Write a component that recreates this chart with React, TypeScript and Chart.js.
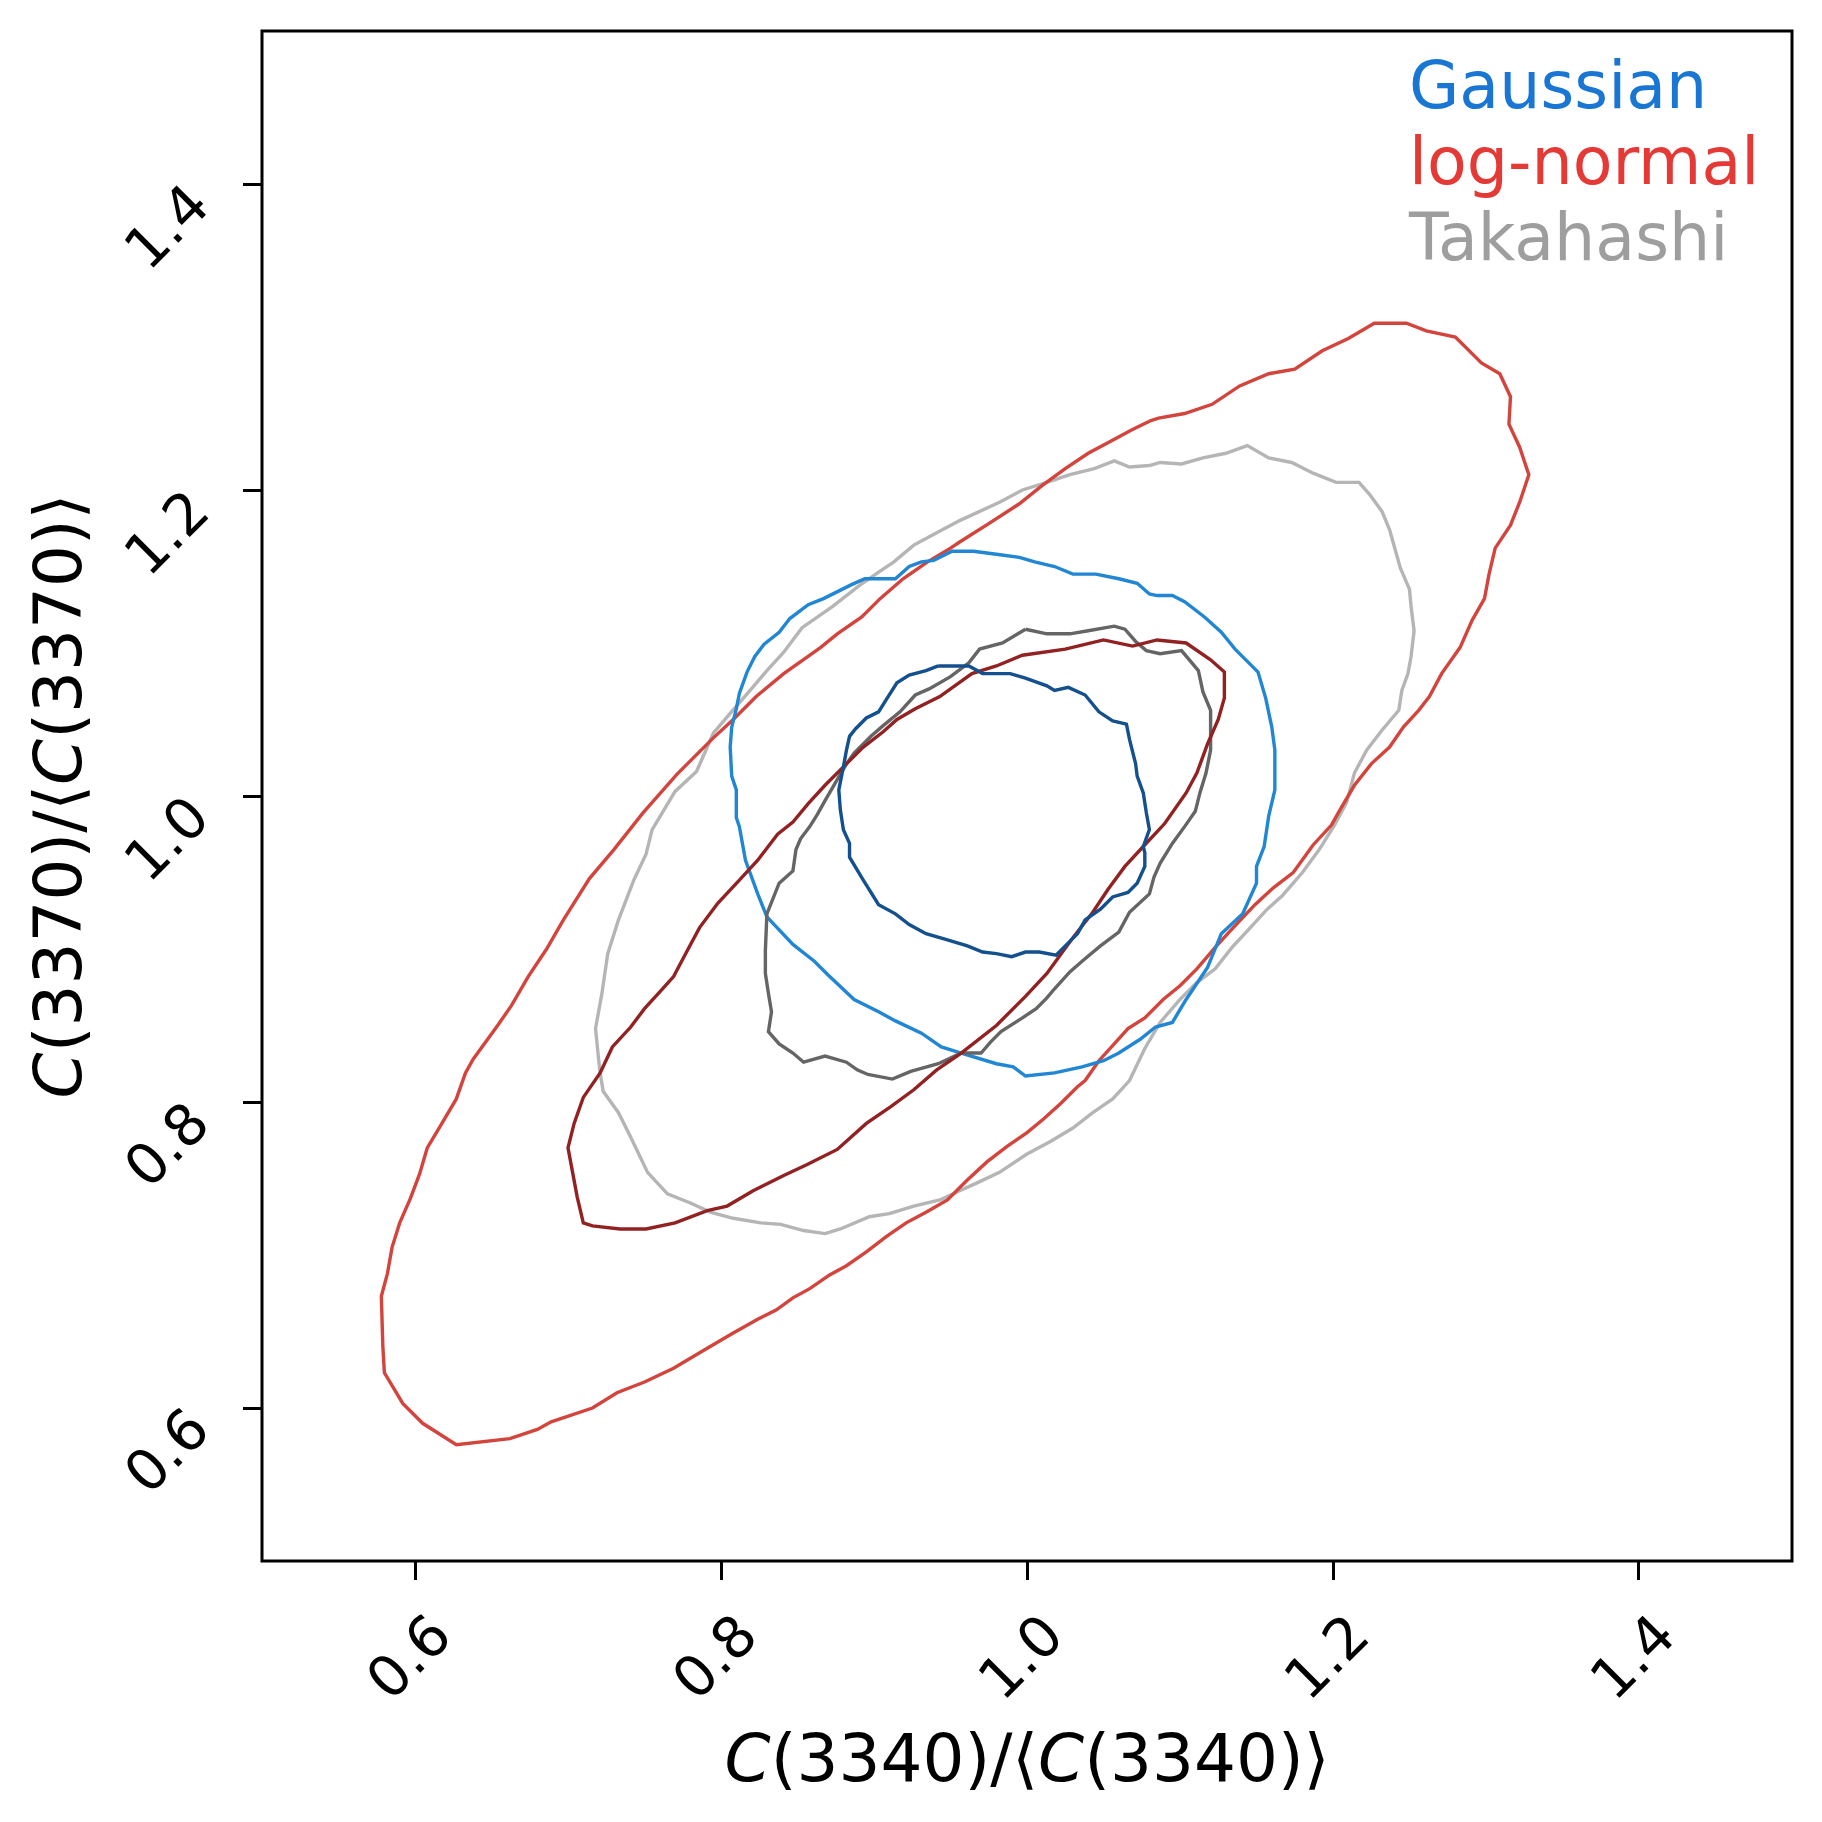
import React, { useEffect, useRef } from "react";
import { Chart, registerables } from "chart.js";

Chart.register(...registerables);

// ---------- data ----------
const axisMin = 0.5;
const axisMax = 1.5;
const xTickValues = [0.6, 0.8, 1.0, 1.2, 1.4];
const yTickValues = [0.6, 0.8, 1.0, 1.2, 1.4];

const legendLabels = ["Gaussian", "log-normal", "Takahashi"];
const legendColors = ["#1976d2", "#e53935", "#9e9e9e"];

const xTitleParts: [string, boolean][] = [["C", true], ["(3340)/⟨", false], ["C", true], ["(3340)⟩", false]];
const yTitleParts: [string, boolean][] = [["C", true], ["(3370)/⟨", false], ["C", true], ["(3370)⟩", false]];

const gaussianOuter: [number, number][] = [
  [0.956, 1.160], [0.965, 1.160], [0.980, 1.158], [0.995, 1.156], [1.005, 1.153], [1.018, 1.150],
  [1.030, 1.145], [1.045, 1.145], [1.060, 1.142], [1.072, 1.139], [1.080, 1.132], [1.085, 1.131],
  [1.095, 1.131], [1.103, 1.127], [1.116, 1.117], [1.127, 1.107], [1.136, 1.096], [1.144, 1.088],
  [1.151, 1.081], [1.156, 1.064], [1.160, 1.045], [1.162, 1.030], [1.162, 1.004], [1.158, 0.987],
  [1.155, 0.967], [1.150, 0.954], [1.150, 0.943], [1.141, 0.923], [1.127, 0.910], [1.118, 0.888],
  [1.104, 0.867], [1.095, 0.852], [1.084, 0.849], [1.074, 0.841], [1.060, 0.832], [1.050, 0.827],
  [1.036, 0.823], [1.018, 0.819], [0.999, 0.817], [0.991, 0.823], [0.980, 0.825], [0.957, 0.832],
  [0.944, 0.836], [0.931, 0.845], [0.914, 0.853], [0.903, 0.859], [0.887, 0.867], [0.870, 0.883],
  [0.861, 0.892], [0.847, 0.903], [0.830, 0.921], [0.824, 0.936], [0.816, 0.958], [0.812, 0.980],
  [0.810, 0.986], [0.810, 1.004], [0.807, 1.013], [0.806, 1.032], [0.807, 1.045], [0.810, 1.057],
  [0.812, 1.067], [0.817, 1.081], [0.822, 1.091], [0.828, 1.099], [0.838, 1.107], [0.845, 1.116],
  [0.857, 1.125], [0.867, 1.129], [0.885, 1.138], [0.894, 1.142], [0.914, 1.142], [0.923, 1.150],
  [0.931, 1.153], [0.939, 1.154], [0.951, 1.160],
];

const gaussianInner: [number, number][] = [
  [0.942, 1.085], [0.955, 1.085], [0.962, 1.085], [0.971, 1.080], [0.989, 1.080], [0.999, 1.077],
  [1.013, 1.072], [1.018, 1.069], [1.027, 1.071], [1.038, 1.066], [1.047, 1.055], [1.056, 1.049],
  [1.065, 1.047], [1.067, 1.037], [1.071, 1.021], [1.072, 1.013], [1.076, 1.002], [1.078, 0.989],
  [1.080, 0.978], [1.076, 0.967], [1.077, 0.963], [1.077, 0.954], [1.072, 0.943], [1.066, 0.937],
  [1.056, 0.934], [1.048, 0.926], [1.038, 0.919], [1.033, 0.910], [1.027, 0.904], [1.019, 0.896],
  [1.008, 0.898], [0.999, 0.898], [0.990, 0.895], [0.980, 0.897], [0.971, 0.898], [0.961, 0.902],
  [0.948, 0.906], [0.934, 0.910], [0.923, 0.916], [0.914, 0.923], [0.903, 0.929], [0.893, 0.945],
  [0.884, 0.960], [0.884, 0.969], [0.880, 0.978], [0.878, 0.991], [0.877, 1.004], [0.880, 1.019],
  [0.882, 1.030], [0.884, 1.039], [0.888, 1.044], [0.895, 1.051], [0.903, 1.055], [0.908, 1.063],
  [0.915, 1.074], [0.923, 1.079], [0.934, 1.082],
];

const logNormalOuter: [number, number][] = [
  [1.080, 1.245], [1.086, 1.247], [1.103, 1.250], [1.121, 1.256], [1.139, 1.268], [1.158, 1.276],
  [1.175, 1.279], [1.193, 1.291], [1.210, 1.299], [1.227, 1.309], [1.248, 1.309], [1.261, 1.304],
  [1.280, 1.300], [1.297, 1.283], [1.309, 1.276], [1.316, 1.261], [1.315, 1.243], [1.322, 1.228],
  [1.328, 1.210], [1.322, 1.192], [1.316, 1.177], [1.306, 1.162], [1.302, 1.145], [1.299, 1.129],
  [1.291, 1.115], [1.283, 1.097], [1.271, 1.080], [1.263, 1.065], [1.256, 1.056], [1.246, 1.045],
  [1.237, 1.032], [1.225, 1.021], [1.214, 1.007], [1.204, 0.990], [1.199, 0.981], [1.187, 0.968],
  [1.174, 0.950], [1.161, 0.940], [1.149, 0.929], [1.133, 0.912], [1.123, 0.901], [1.111, 0.887],
  [1.100, 0.876], [1.089, 0.867], [1.077, 0.855], [1.066, 0.848], [1.057, 0.838], [1.047, 0.827],
  [1.038, 0.814], [1.033, 0.810], [1.022, 0.799], [1.011, 0.789], [1.000, 0.780], [0.987, 0.771],
  [0.974, 0.761], [0.961, 0.749], [0.948, 0.736], [0.934, 0.728], [0.921, 0.721], [0.908, 0.712],
  [0.895, 0.702], [0.882, 0.693], [0.871, 0.687], [0.858, 0.678], [0.847, 0.672], [0.836, 0.664],
  [0.824, 0.658], [0.808, 0.649], [0.791, 0.639], [0.769, 0.626], [0.750, 0.617], [0.732, 0.610],
  [0.716, 0.600], [0.689, 0.591], [0.680, 0.586], [0.662, 0.580], [0.627, 0.576], [0.605, 0.590],
  [0.592, 0.603], [0.580, 0.623], [0.579, 0.640], [0.578, 0.673], [0.582, 0.688], [0.585, 0.705],
  [0.590, 0.721], [0.597, 0.737], [0.603, 0.753], [0.608, 0.770], [0.617, 0.785], [0.627, 0.802],
  [0.633, 0.819], [0.638, 0.828], [0.654, 0.850], [0.663, 0.863], [0.674, 0.882], [0.686, 0.900],
  [0.697, 0.919], [0.714, 0.946], [0.730, 0.965], [0.749, 0.989], [0.771, 1.014], [0.795, 1.038],
  [0.808, 1.050], [0.823, 1.065], [0.841, 1.080], [0.865, 1.097], [0.876, 1.106], [0.892, 1.117],
  [0.904, 1.129], [0.919, 1.142], [0.935, 1.153], [0.950, 1.162], [0.956, 1.166], [0.975, 1.178],
  [0.995, 1.191], [1.010, 1.203], [1.025, 1.214], [1.040, 1.224], [1.055, 1.232], [1.068, 1.239],
];

const logNormalInner: [number, number][] = [
  [0.812, 0.945], [0.824, 0.958], [0.837, 0.975], [0.847, 0.983], [0.857, 0.995], [0.868, 1.007],
  [0.882, 1.021], [0.893, 1.032], [0.906, 1.042], [0.915, 1.050], [0.927, 1.057], [0.943, 1.065],
  [0.964, 1.080], [0.980, 1.085], [0.997, 1.092], [1.025, 1.096], [1.050, 1.102], [1.069, 1.098],
  [1.085, 1.102], [1.104, 1.100], [1.120, 1.089], [1.129, 1.081], [1.129, 1.064], [1.125, 1.050],
  [1.118, 1.034], [1.111, 1.015], [1.104, 1.002], [1.090, 0.982], [1.076, 0.967], [1.064, 0.954],
  [1.053, 0.939], [1.043, 0.924], [1.029, 0.906], [1.013, 0.884], [0.999, 0.869], [0.980, 0.850],
  [0.957, 0.832], [0.941, 0.821], [0.926, 0.808], [0.911, 0.797], [0.895, 0.786], [0.876, 0.769],
  [0.856, 0.759], [0.841, 0.752], [0.821, 0.742], [0.804, 0.732], [0.791, 0.729], [0.770, 0.721],
  [0.751, 0.717], [0.734, 0.717], [0.716, 0.719], [0.710, 0.721], [0.706, 0.738], [0.700, 0.770],
  [0.704, 0.786], [0.710, 0.803], [0.721, 0.819], [0.729, 0.836], [0.741, 0.849], [0.750, 0.861],
  [0.760, 0.872], [0.769, 0.882], [0.778, 0.899], [0.786, 0.914], [0.798, 0.930],
];

const takahashiOuter: [number, number][] = [
  [1.080, 1.216], [1.087, 1.218], [1.101, 1.217], [1.115, 1.221], [1.130, 1.224], [1.144, 1.229],
  [1.158, 1.221], [1.173, 1.218], [1.187, 1.211], [1.202, 1.205], [1.217, 1.205], [1.224, 1.197],
  [1.232, 1.186], [1.237, 1.174], [1.244, 1.149], [1.250, 1.135], [1.251, 1.124], [1.253, 1.108],
  [1.251, 1.091], [1.249, 1.080], [1.245, 1.069], [1.243, 1.056], [1.232, 1.043], [1.222, 1.030],
  [1.214, 1.015], [1.209, 0.996], [1.201, 0.981], [1.191, 0.965], [1.180, 0.950], [1.167, 0.935],
  [1.157, 0.926], [1.146, 0.914], [1.134, 0.901], [1.123, 0.887], [1.111, 0.878], [1.100, 0.867],
  [1.087, 0.852], [1.077, 0.835], [1.067, 0.814], [1.056, 0.802], [1.043, 0.793], [1.030, 0.783],
  [1.015, 0.774], [1.000, 0.766], [0.982, 0.754], [0.967, 0.747], [0.956, 0.742], [0.943, 0.736],
  [0.926, 0.732], [0.910, 0.727], [0.897, 0.725], [0.878, 0.717], [0.868, 0.714], [0.854, 0.716],
  [0.839, 0.720], [0.826, 0.721], [0.808, 0.724], [0.793, 0.728], [0.780, 0.734], [0.765, 0.740],
  [0.752, 0.754], [0.741, 0.777], [0.733, 0.793], [0.723, 0.807], [0.721, 0.819], [0.720, 0.828],
  [0.718, 0.848], [0.722, 0.870], [0.726, 0.897], [0.733, 0.919], [0.743, 0.945], [0.751, 0.962],
  [0.755, 0.978], [0.770, 1.003], [0.784, 1.016], [0.795, 1.041], [0.806, 1.054], [0.819, 1.069],
  [0.830, 1.082], [0.841, 1.094], [0.853, 1.110], [0.873, 1.124], [0.891, 1.138], [0.904, 1.147],
  [0.913, 1.153], [0.926, 1.164], [0.941, 1.172], [0.956, 1.180], [0.982, 1.192], [0.997, 1.200],
  [1.013, 1.205], [1.028, 1.210], [1.044, 1.214], [1.057, 1.219], [1.067, 1.215],
];

const takahashiInner: [number, number][] = [
  [0.999, 1.109], [1.013, 1.106], [1.028, 1.106], [1.040, 1.108], [1.057, 1.111], [1.064, 1.109],
  [1.071, 1.101], [1.078, 1.095], [1.087, 1.093], [1.101, 1.095], [1.112, 1.082], [1.115, 1.068],
  [1.120, 1.056], [1.120, 1.030], [1.117, 1.015], [1.113, 1.002], [1.110, 0.990], [1.103, 0.980],
  [1.095, 0.969], [1.087, 0.956], [1.083, 0.947], [1.080, 0.936], [1.067, 0.924], [1.060, 0.911],
  [1.048, 0.902], [1.036, 0.892], [1.028, 0.885], [1.018, 0.874], [1.013, 0.868], [1.006, 0.861],
  [0.997, 0.855], [0.983, 0.846], [0.976, 0.839], [0.970, 0.832], [0.957, 0.832], [0.942, 0.825],
  [0.924, 0.820], [0.912, 0.815], [0.896, 0.818], [0.889, 0.821], [0.882, 0.826], [0.868, 0.830],
  [0.854, 0.826], [0.847, 0.832], [0.838, 0.838], [0.831, 0.846], [0.833, 0.859], [0.831, 0.871],
  [0.829, 0.884], [0.829, 0.899], [0.830, 0.923], [0.838, 0.943], [0.847, 0.951], [0.849, 0.965],
  [0.852, 0.972], [0.858, 0.980], [0.863, 0.988], [0.868, 0.997], [0.875, 1.009], [0.882, 1.021],
  [0.887, 1.028], [0.898, 1.039], [0.906, 1.046], [0.917, 1.055], [0.927, 1.066], [0.936, 1.070],
  [0.950, 1.078], [0.962, 1.087], [0.969, 1.096], [0.984, 1.100],
];

// ---------- styling ----------
const FONT = '"DejaVu Sans", "Liberation Sans", sans-serif';
const W = 1822;
const H = 1822;

function closed(points: [number, number][]) {
  const pts = points.map(([x, y]) => ({ x, y }));
  pts.push({ ...pts[0] });
  return pts;
}

function contour(label: string, points: [number, number][], color: string) {
  return {
    label,
    data: closed(points),
    showLine: true,
    borderColor: color,
    backgroundColor: color,
    borderWidth: 3.4,
    pointRadius: 0,
    pointHoverRadius: 0,
    tension: 0,
    fill: false,
  };
}

function drawRich(ctx: CanvasRenderingContext2D, parts: [string, boolean][], cx: number, baseline: number, size: number) {
  let total = 0;
  const widths: number[] = [];
  for (const [t, it] of parts) {
    ctx.font = `${it ? "italic " : ""}${size}px ${FONT}`;
    const w = ctx.measureText(t).width;
    widths.push(w);
    total += w;
  }
  let x = cx - total / 2;
  parts.forEach(([t, it], i) => {
    ctx.font = `${it ? "italic " : ""}${size}px ${FONT}`;
    ctx.fillText(t, x, baseline);
    x += widths[i];
  });
}

const decorPlugin = {
  id: "decor",
  afterDatasetsDraw(chart: any) {
    const { ctx, chartArea } = chart;
    const { left, top, right, bottom } = chartArea;
    ctx.save();
    // frame
    ctx.strokeStyle = "#000";
    ctx.lineWidth = 3;
    ctx.strokeRect(left, top, right - left, bottom - top);
    // legend texts
    ctx.textAlign = "left";
    ctx.textBaseline = "alphabetic";
    ctx.font = `65px ${FONT}`;
    legendLabels.forEach((lab, i) => {
      ctx.fillStyle = legendColors[i];
      ctx.fillText(lab, 1409, 108 + i * 76);
    });
    // axis titles
    ctx.fillStyle = "#000";
    drawRich(ctx, xTitleParts, (left + right) / 2, 1781, 66);
    ctx.translate(81, (top + bottom) / 2);
    ctx.rotate(-Math.PI / 2);
    drawRich(ctx, yTitleParts, 0, 0, 66);
    ctx.restore();
  },
};

export default function App() {
  const ref = useRef<HTMLCanvasElement | null>(null);

  useEffect(() => {
    document.body.style.margin = "0";
    const canvas = ref.current;
    if (!canvas) return;

    const tickFont = { family: FONT, size: 57 };
    const chart = new Chart(canvas, {
      type: "scatter",
      data: {
        datasets: [
          contour("Gaussian inner", gaussianInner, "#14508e"),
          contour("log-normal inner", logNormalInner, "#922222"),
          contour("Takahashi inner", takahashiInner, "#656565"),
          contour("Gaussian outer", gaussianOuter, "#2186d3"),
          contour("log-normal outer", logNormalOuter, "#d3443d"),
          contour("Takahashi outer", takahashiOuter, "#b5b5b5"),
        ],
      },
      options: {
        responsive: false,
        animation: false,
        devicePixelRatio: 1,
        layout: { padding: { top: 31, right: 30, left: 0, bottom: 0 } },
        plugins: {
          legend: { display: false },
          tooltip: { enabled: false },
          title: { display: false },
        },
        events: [],
        scales: {
          x: {
            type: "linear",
            min: axisMin,
            max: axisMax,
            afterBuildTicks: (scale: any) => {
              scale.ticks = xTickValues.map((v) => ({ value: v }));
            },
            afterFit: (scale: any) => {
              scale.height = 261;
              scale.paddingLeft = 0;
              scale.paddingRight = 0;
              scale.paddingTop = 0;
              scale.paddingBottom = 0;
            },
            ticks: {
              autoSkip: false,
              minRotation: 45,
              maxRotation: 45,
              padding: 24,
              labelOffset: 29,
              color: "#000",
              font: tickFont,
              callback: (v: any) => Number(v).toFixed(1),
            },
            grid: {
              display: true,
              drawOnChartArea: false,
              drawTicks: true,
              tickLength: 19,
              tickWidth: 3,
              tickColor: "#000",
            },
            border: { display: false },
          },
          y: {
            type: "linear",
            min: axisMin,
            max: axisMax,
            afterBuildTicks: (scale: any) => {
              scale.ticks = yTickValues.map((v) => ({ value: v }));
            },
            afterFit: (scale: any) => {
              scale.width = 262;
              scale.paddingLeft = 0;
              scale.paddingRight = 0;
              scale.paddingTop = 0;
              scale.paddingBottom = 0;
            },
            ticks: {
              autoSkip: false,
              minRotation: 45,
              maxRotation: 45,
              padding: 41,
              labelOffset: 14,
              color: "#000",
              font: tickFont,
              callback: (v: any) => Number(v).toFixed(1),
            },
            grid: {
              display: true,
              drawOnChartArea: false,
              drawTicks: true,
              tickLength: 19,
              tickWidth: 3,
              tickColor: "#000",
            },
            border: { display: false },
          },
        },
      } as any,
      plugins: [decorPlugin],
    });

    return () => chart.destroy();
  }, []);

  return (
    <div style={{ width: W, height: H, background: "#fff" }}>
      <canvas ref={ref} width={W} height={H} style={{ display: "block", width: W, height: H }} />
    </div>
  );
}
